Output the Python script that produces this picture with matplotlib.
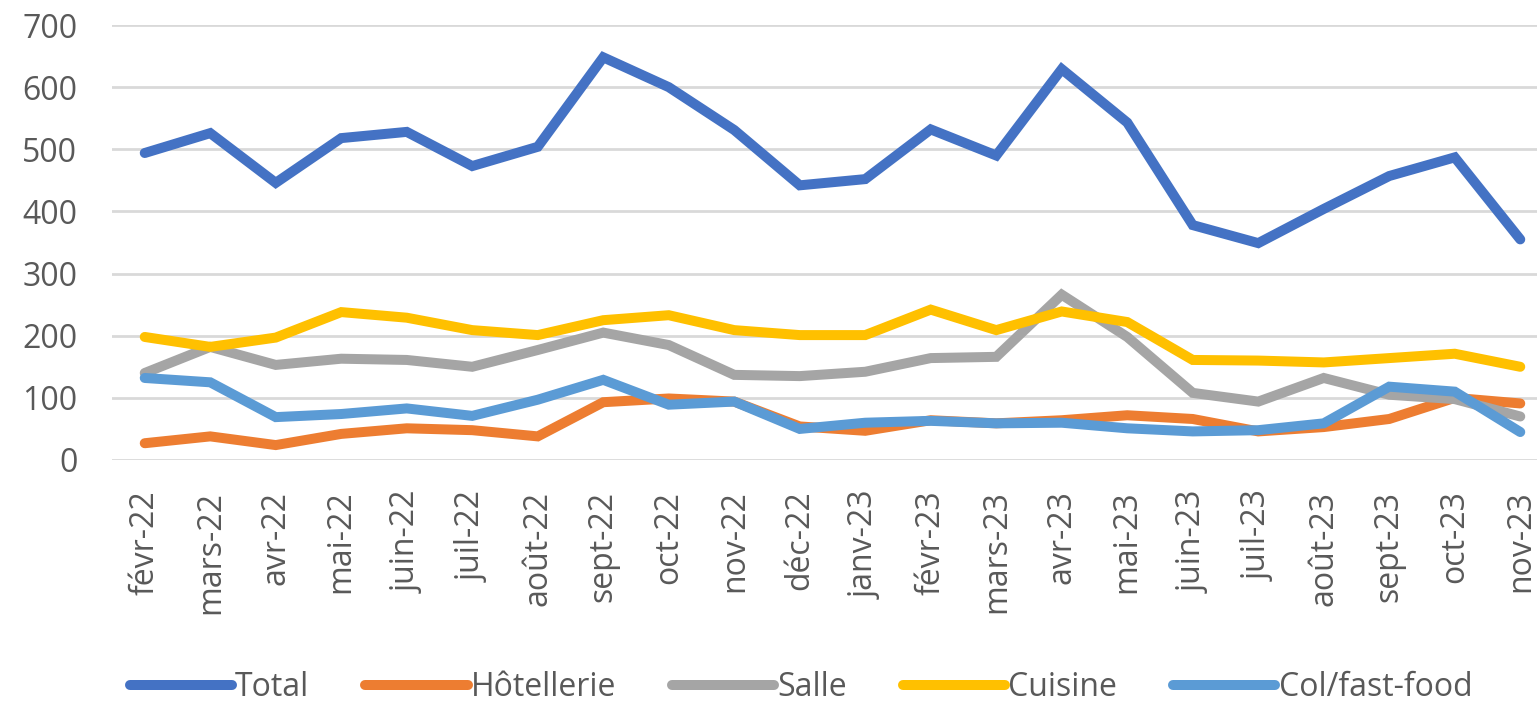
import matplotlib
matplotlib.use("Agg")
import matplotlib.pyplot as plt

months = ["févr-22", "mars-22", "avr-22", "mai-22", "juin-22", "juil-22", "août-22",
          "sept-22", "oct-22", "nov-22", "déc-22", "janv-23", "févr-23", "mars-23",
          "avr-23", "mai-23", "juin-23", "juil-23", "août-23", "sept-23", "oct-23", "nov-23"]

total = [494, 526, 446, 518, 528, 473, 504, 648, 600, 531, 442, 452, 532, 490,
         629, 543, 378, 349, 404, 457, 487, 355]
hotellerie = [27, 38, 24, 42, 51, 48, 38, 93, 99, 94, 54, 47, 64, 59,
              64, 72, 66, 46, 53, 66, 100, 91]
salle = [140, 182, 153, 163, 161, 150, 177, 205, 185, 137, 135, 142, 164, 166,
         266, 198, 108, 94, 132, 105, 98, 70]
cuisine = [198, 182, 197, 238, 229, 209, 201, 225, 233, 209, 201, 201, 242, 209,
           239, 222, 161, 160, 157, 164, 171, 150]
colfast = [132, 125, 69, 74, 83, 71, 97, 129, 89, 94, 50, 60, 63, 59,
           60, 51, 46, 48, 59, 118, 110, 45]

series_names = ["Total", "Hôtellerie", "Salle", "Cuisine", "Col/fast-food"]
series_values = [total, hotellerie, salle, cuisine, colfast]
colors = ["#4472C4", "#ED7D31", "#A5A5A5", "#FFC000", "#5B9BD5"]
yticks = [0, 100, 200, 300, 400, 500, 600, 700]

plt.rcParams['font.family'] = ['Open Sans', 'DejaVu Sans']

W, H = 1537, 707
fig = plt.figure(figsize=(W / 100, H / 100), dpi=100)
left = 112 / W
bottom = 1 - 460 / H
top = 1 - 25 / H
ax = fig.add_axes([left, bottom, (1553 - 112) / W, top - bottom])

x = list(range(len(months)))
for name, vals, c in zip(series_names, series_values, colors):
    ax.plot(x, vals, color=c, lw=7.2, label=name, solid_capstyle='round',
            solid_joinstyle='miter', zorder=3)

ax.set_xlim(-0.5, len(months) - 0.5)
ax.set_ylim(0, 700)
ax.set_yticks(yticks)
ax.set_yticklabels([str(v) for v in yticks])
ax.set_xticks(x)
ax.set_xticklabels(months, rotation=90, va='top', ha='center')
ax.grid(axis='y', color='#D9D9D9', lw=2, zorder=0)
ax.set_axisbelow(True)
for s in ax.spines.values():
    s.set_visible(False)
ax.tick_params(axis='both', length=0, labelsize=23, colors='#595959')
ax.tick_params(axis='y', pad=25)
ax.tick_params(axis='x', pad=22)

leg = fig.legend(loc='center', bbox_to_anchor=(801 / W, 1 - 688 / H), ncol=5,
                 frameon=False, fontsize=23, handlelength=3.2, handletextpad=0.1,
                 columnspacing=1.75, labelcolor='#595959', borderaxespad=0)

fig.savefig("out.png", dpi=100)
